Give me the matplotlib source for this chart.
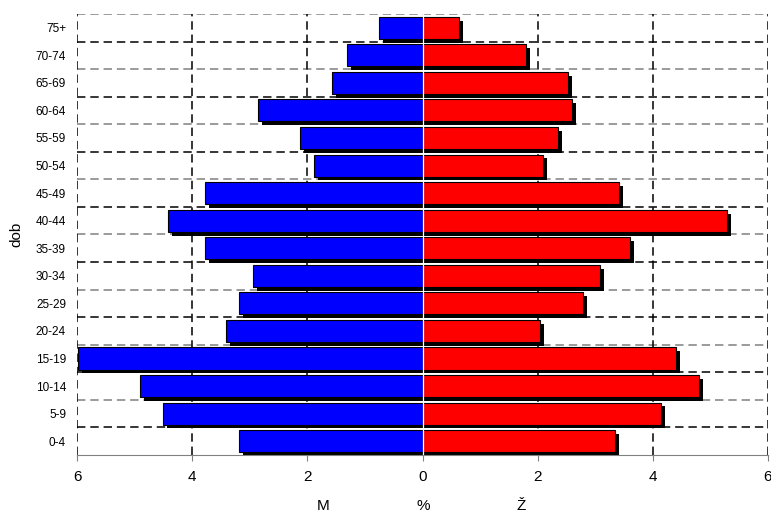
import numpy as np
import matplotlib
matplotlib.use("Agg")
import matplotlib.pyplot as plt

plt.rcParams['font.family'] = ['Liberation Sans', 'DejaVu Sans']

# age groups, bottom to top
groups = ["0-4", "5-9", "10-14", "15-19", "20-24", "25-29", "30-34", "35-39",
          "40-44", "45-49", "50-54", "55-59", "60-64", "65-69", "70-74", "75+"]
# percent of population
muzi = [3.19, 4.51, 4.90, 5.99, 3.42, 3.19, 2.95, 3.78,
        4.42, 3.78, 1.89, 2.13, 2.86, 1.58, 1.32, 0.75]
zeny = [3.35, 4.14, 4.81, 4.40, 2.04, 2.78, 3.09, 3.60,
        5.29, 3.41, 2.10, 2.35, 2.60, 2.52, 1.79, 0.63]

fig = plt.figure(figsize=(7.71, 5.17), dpi=100)
ax = fig.add_axes([0.1, 0.12, 0.896, 0.853])

y = np.arange(len(groups))
m = -np.array(muzi)
z = np.array(zeny)
h = 0.8

# grid lines between rows, alternating grey / black like the original
for k in range(len(groups)):
    yy = len(groups) - 0.5 - k
    col = '#808080' if k % 2 == 0 else 'black'
    ax.axhline(yy, color=col, lw=1.1, dashes=(5.5, 3.2), zorder=0)
for xx in [-6, -4, -2, 2, 4, 6]:
    ax.axvline(xx, color='black', lw=1.1, dashes=(5.5, 3.2), zorder=0)

# shadows
dx, dy = 0.07, 0.14
ax.barh(y - dy, m, height=h, left=dx, color='black', zorder=1)
ax.barh(y - dy, z, height=h, left=dx, color='black', zorder=1)

ax.barh(y, m, height=h, color='#0000ff', edgecolor='black', lw=0.8, zorder=2)
ax.barh(y, z, height=h, color='#ff0000', edgecolor='black', lw=0.8, zorder=2)
ax.axvline(0, color='white', lw=0.9, zorder=3)

ax.set_xlim(-6, 6)
ax.set_ylim(-0.5, len(groups) - 0.5)
ax.set_yticks(y)
ax.set_yticklabels(groups, fontsize=8.5)
ax.tick_params(axis='y', length=0, pad=8)
ax.set_xticks(np.arange(-6, 7, 2))
ax.set_xticklabels([str(abs(v)) for v in range(-6, 7, 2)], fontsize=11)
ax.tick_params(axis='x', length=4, color='#808080', pad=7)

for s in ['top', 'left', 'right']:
    ax.spines[s].set_visible(False)
ax.spines['bottom'].set_color('#808080')

ax.set_ylabel("dob", fontsize=11, labelpad=9)
ax.text(-1.72, -0.115, "M", transform=ax.get_xaxis_transform(), ha='center', va='center', fontsize=11)
ax.text(0.02, -0.115, "%", transform=ax.get_xaxis_transform(), ha='center', va='center', fontsize=11)
ax.text(1.72, -0.115, "Ž", transform=ax.get_xaxis_transform(), ha='center', va='center', fontsize=11)

fig.savefig("out.png", dpi=100)
